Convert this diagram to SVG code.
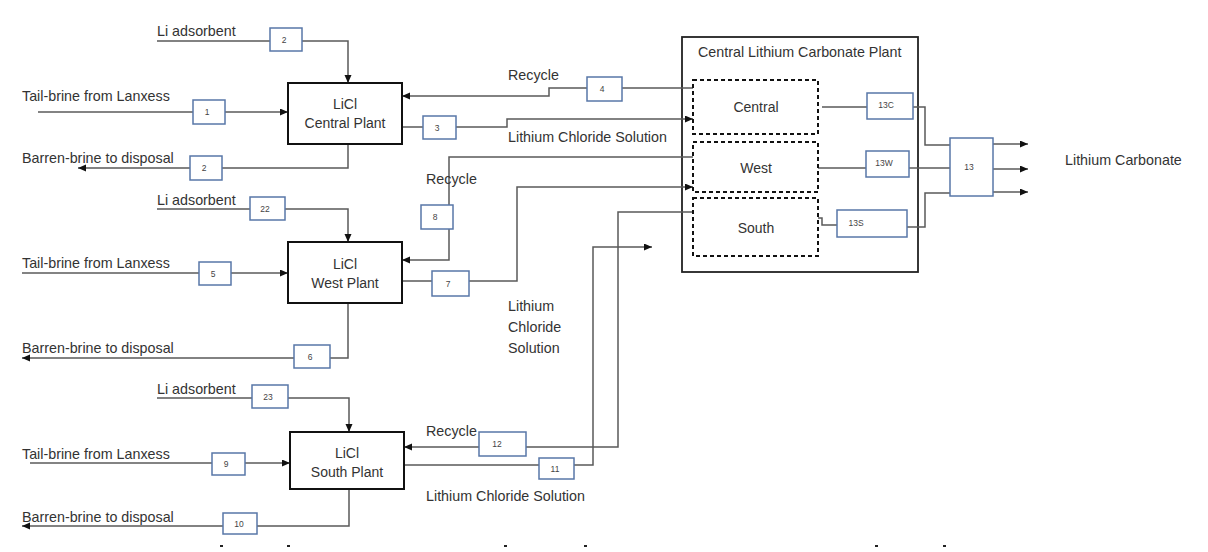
<svg xmlns="http://www.w3.org/2000/svg" width="1208" height="552" viewBox="0 0 1208 552">
<defs>
<marker id="ah" markerUnits="userSpaceOnUse" markerWidth="9" markerHeight="8" refX="8" refY="3.5" orient="auto">
<path d="M0,0 L8,3.5 L0,7 z" fill="#111"/>
</marker>
<style>
.t{font-family:"Liberation Sans",Arial,sans-serif;font-size:14.3px;fill:#333}
.tc{font-family:"Liberation Sans",Arial,sans-serif;font-size:14px;fill:#333;text-anchor:middle}
.s{font-family:"Liberation Sans",Arial,sans-serif;font-size:8.5px;fill:#444;text-anchor:middle}
.lb{fill:#fff;stroke:#5877a8;stroke-width:1.5}
.pl{fill:#fff;stroke:#111;stroke-width:2}
.dz{fill:#fff;stroke:#111;stroke-width:2;stroke-dasharray:4 3}
.c{fill:none;stroke:#5a5a5a;stroke-width:1.5}
.a{marker-end:url(#ah)}
</style>
</defs>
<rect width="1208" height="552" fill="#fff"/>

<g id="carbonate-plant">
<rect x="682" y="37" width="236" height="235" fill="#fff" stroke="#222" stroke-width="1.8"/>
<text class="t" x="698" y="57" font-size="14">Central Lithium Carbonate Plant</text>
</g>

<g id="connectors">
<path class="c a" d="M157,41 H348 V83"/>
<path class="c a" d="M38,112 H288"/>
<path class="c a" d="M348,144 V168 H78"/>
<path class="c a" d="M693,88 H549 V96 H402"/>
<path class="c a" d="M402,127 H507 V119 H693"/>
<path class="c a" d="M157,209 H348 V242"/>
<path class="c a" d="M22,273 H288"/>
<path class="c a" d="M348,303 V358 H22"/>
<path class="c a" d="M693,157 H449 V260 H402"/>
<path class="c a" d="M402,281 H517 V187 H693"/>
<path class="c a" d="M157,398 H349 V432"/>
<path class="c a" d="M30,463 H290"/>
<path class="c a" d="M349,489 V526 H22"/>
<path class="c a" d="M693,212 H618 V447 H404"/>
<path class="c a" d="M404,465 H593 V247 H652"/>
<path class="c" d="M822,107 H867 M913,107 H925 V145 H950"/>
<path class="c" d="M818,168 H950"/>
<path class="c" d="M818,218 H822 V225 H837 M907,227 H925 V193 H950"/>
<path class="c a" d="M993,144 H1028"/>
<path class="c a" d="M993,169 H1028"/>
<path class="c a" d="M993,192 H1028"/>
</g>

<g id="licl-central">
<rect class="pl" x="288" y="83" width="114" height="61"/>
<text class="tc" x="345" y="109">LiCl</text>
<text class="tc" x="345" y="128">Central Plant</text>
</g>
<g id="licl-west">
<rect class="pl" x="288" y="242" width="114" height="61"/>
<text class="tc" x="345" y="269">LiCl</text>
<text class="tc" x="345" y="288">West Plant</text>
</g>
<g id="licl-south">
<rect class="pl" x="290" y="432" width="114" height="57"/>
<text class="tc" x="347" y="458">LiCl</text>
<text class="tc" x="347" y="477">South Plant</text>
</g>

<g id="zone-central">
<rect class="dz" x="693" y="80" width="125" height="54"/>
<text class="tc" x="756" y="112">Central</text>
</g>
<g id="zone-west">
<rect class="dz" x="693" y="142" width="125" height="50"/>
<text class="tc" x="756" y="173">West</text>
</g>
<g id="zone-south">
<rect class="dz" x="693" y="198" width="125" height="58"/>
<text class="tc" x="756" y="233">South</text>
</g>

<g id="labels">
<text class="t" x="157" y="36">Li adsorbent</text>
<text class="t" x="22" y="101">Tail-brine from Lanxess</text>
<text class="t" x="22" y="163">Barren-brine to disposal</text>
<text class="t" x="157" y="205">Li adsorbent</text>
<text class="t" x="22" y="268">Tail-brine from Lanxess</text>
<text class="t" x="22" y="353">Barren-brine to disposal</text>
<text class="t" x="157" y="394">Li adsorbent</text>
<text class="t" x="22" y="459">Tail-brine from Lanxess</text>
<text class="t" x="22" y="522">Barren-brine to disposal</text>
<text class="t" x="508" y="80">Recycle</text>
<text class="t" x="508" y="142">Lithium Chloride Solution</text>
<text class="t" x="426" y="184">Recycle</text>
<text class="t" x="508" y="311">Lithium</text>
<text class="t" x="508" y="332">Chloride</text>
<text class="t" x="508" y="353">Solution</text>
<text class="t" x="426" y="436">Recycle</text>
<text class="t" x="426" y="501">Lithium Chloride Solution</text>
<text class="t" x="1065" y="165">Lithium Carbonate</text>
</g>

<g id="s2a"><rect class="lb" x="270" y="28" width="32" height="23"/><text class="s" x="284" y="43">2</text></g>
<g id="s1"><rect class="lb" x="193" y="100" width="32" height="24"/><text class="s" x="207" y="115">1</text></g>
<g id="s2b"><rect class="lb" x="190" y="156" width="32" height="24"/><text class="s" x="204" y="171">2</text></g>
<g id="s4"><rect class="lb" x="587" y="77" width="35" height="24"/><text class="s" x="602" y="92">4</text></g>
<g id="s3"><rect class="lb" x="423" y="116" width="33" height="23"/><text class="s" x="437" y="131">3</text></g>
<g id="s22"><rect class="lb" x="250" y="197" width="35" height="23"/><text class="s" x="265" y="212">22</text></g>
<g id="s5"><rect class="lb" x="199" y="262" width="32" height="23"/><text class="s" x="213" y="277">5</text></g>
<g id="s8"><rect class="lb" x="421" y="205" width="32" height="24"/><text class="s" x="435" y="220">8</text></g>
<g id="s7"><rect class="lb" x="432" y="271" width="37" height="25"/><text class="s" x="448" y="287">7</text></g>
<g id="s6"><rect class="lb" x="294" y="345" width="36" height="23"/><text class="s" x="310" y="360">6</text></g>
<g id="s23"><rect class="lb" x="252" y="385" width="36" height="23"/><text class="s" x="268" y="400">23</text></g>
<g id="s9"><rect class="lb" x="212" y="453" width="33" height="22"/><text class="s" x="226" y="467">9</text></g>
<g id="s12"><rect class="lb" x="479" y="432" width="47" height="24"/><text class="s" x="497" y="447">12</text></g>
<g id="s11"><rect class="lb" x="539" y="458" width="35" height="21"/><text class="s" x="555" y="472">11</text></g>
<g id="s10"><rect class="lb" x="223" y="513" width="34" height="21"/><text class="s" x="239" y="527">10</text></g>
<g id="s13c"><rect class="lb" x="867" y="93" width="46" height="26"/><text class="s" x="886" y="108">13C</text></g>
<g id="s13w"><rect class="lb" x="866" y="151" width="43" height="26"/><text class="s" x="884" y="166">13W</text></g>
<g id="s13s"><rect class="lb" x="837" y="210" width="70" height="27"/><text class="s" x="856" y="226">13S</text></g>
<g id="s13"><rect class="lb" x="950" y="138" width="43" height="58"/><text class="s" x="969" y="170">13</text></g>

<g id="page-marks" fill="#222">
<rect x="220" y="545" width="3" height="2"/>
<rect x="287" y="545" width="3" height="2"/>
<rect x="504" y="545" width="3" height="2"/>
<rect x="584" y="545" width="3" height="2"/>
<rect x="875" y="545" width="3" height="2"/>
<rect x="943" y="545" width="3" height="2"/>
</g>
</svg>
